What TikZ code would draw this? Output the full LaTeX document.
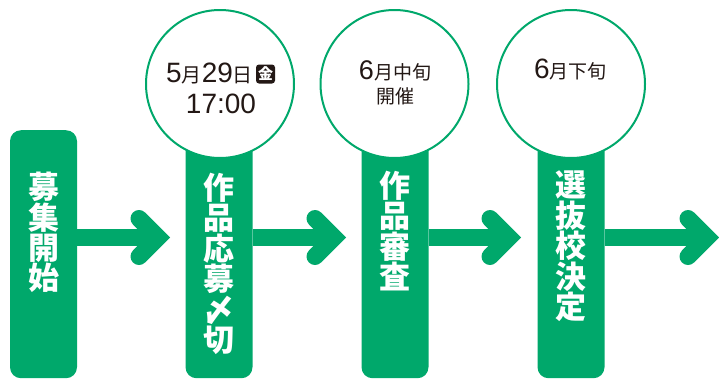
\documentclass[tikz,border=0pt]{standalone}
\usepackage{fontspec}
\setmainfont{Liberation Sans}
\newfontfamily\jp{Noto Sans CJK JP}
\definecolor{grn}{RGB}{0,168,107}
\definecolor{ink}{RGB}{35,24,21}
\begin{document}
\begin{tikzpicture}[x=1pt,y=-1pt,
  bar/.style={fill=grn, rounded corners=11pt, draw=none, rectangle, minimum width=67pt, anchor=north, inner sep=0pt},
  shaft/.style={draw=grn, line width=17pt},
  chev/.style={draw=grn, line width=17pt, line cap=round, line join=miter},
  ring/.style={circle, draw=grn, fill=white, line width=2pt, minimum size=148pt, inner sep=0pt},
  vtext/.style={text=white, font=\jp\bfseries\fontsize{31}{30.4}\selectfont, align=center, anchor=north, inner sep=0pt},
  dtext/.style={text=ink, inner sep=0pt, anchor=base},
  badge/.style={fill=ink, rounded corners=3pt, text=white, inner sep=0pt, minimum size=19pt, font=\jp\bfseries\fontsize{15}{15}\selectfont}
]
\newcommand{\dg}{\fontsize{28}{28}\selectfont}
\newcommand{\kj}{\jp\fontsize{20}{20}\selectfont}
\useasboundingbox (0,0) rectangle (719,378);
% bars
\node[bar, minimum height=248pt] (b1) at (43.5,130) {};
\node[bar, minimum height=278pt] (b2) at (219,100) {};
\node[bar, minimum height=278pt] (b3) at (395,100) {};
\node[bar, minimum height=278pt] (b4) at (571,100) {};
% arrow vertices
\coordinate (t1) at (158,237.5);
\coordinate (t2) at (334,237.5);
\coordinate (t3) at (509,237.5);
\coordinate (t4) at (707,237.5);
% shafts
\draw[shaft] (b1.east |- t1) -- (t1);
\draw[shaft] (b2.east |- t2) -- (t2);
\draw[shaft] (b3.east |- t3) -- (t3);
\draw[shaft] (b4.east |- t4) -- (t4);
% chevrons
\foreach \t in {t1,t2,t3,t4}
  \draw[chev] (\t) ++(-19,-19) -- (\t) -- ++(-19,19);
% circles
\node[ring] (c1) at (220,84) {};
\node[ring] (c2) at (394.5,84) {};
\node[ring] (c3) at (571,84) {};
% circle texts
\node[dtext, anchor=base west] (d1) at (166,82) {{\dg 5}{\kj 月}{\dg 29}{\kj 日}};
\node[badge] (k1) at (265.5,74) {金};
\node[dtext] (d2) at (221,113) {\dg 17:00};
\node[dtext] (d3) at (395,79) {{\fontsize{27}{27}\selectfont 6}{\jp\fontsize{19}{19}\selectfont 月中旬}};
\node[dtext] (d4) at (395.5,103) {\jp\fontsize{19}{19}\selectfont 開催};
\node[dtext] (d5) at (570.5,78) {{\fontsize{28}{28}\selectfont 6}{\jp\fontsize{19}{19}\selectfont 月下旬}};
% vertical texts
\node[vtext] (v1) at (43.5,172) {募\\集\\開\\始};
\node[vtext] (v2) at (219,173) {作\\品\\応\\募\\〆\\切};
\node[vtext] (v3) at (395,171) {作\\品\\審\\査};
\node[vtext] (v4) at (571,171) {選\\抜\\校\\決\\定};
\end{tikzpicture}
\end{document}
